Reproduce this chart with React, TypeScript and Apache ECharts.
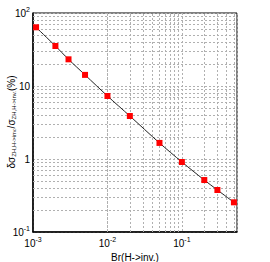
import React, { useEffect, useRef } from "react";
import * as echarts from "echarts";

const brValues = [0.0011, 0.002, 0.003, 0.005, 0.01, 0.02, 0.05, 0.1, 0.2, 0.3, 0.5];
const precision = [63.7, 35.3, 23.2, 14.2, 7.3, 3.88, 1.66, 0.91, 0.515, 0.376, 0.255];
const xMinorGrid = [
  0.002, 0.003, 0.004, 0.005, 0.006, 0.007, 0.008, 0.009,
  0.02, 0.03, 0.04, 0.05, 0.06, 0.07, 0.08, 0.09,
  0.2, 0.3, 0.4, 0.5,
];
const yMinorGrid = [
  0.2, 0.3, 0.4, 0.5, 0.6, 0.7, 0.8, 0.9,
  2, 3, 4, 5, 6, 7, 8, 9,
  20, 30, 40, 50, 60, 70, 80, 90,
];
const yTitle = "{d|δσ}{t|ZH,H->inv.}{d|/σ}{t|ZH,H->inv.}{d|(%)}";

const FONT = "Liberation Sans";

function powLabel(v: number): string {
  const e = Math.round(Math.log10(v));
  if (Math.abs(Math.log10(v) - e) > 1e-6) return "";
  if (e === 0) return "{b|1}";
  if (e === 1) return "{b|10}";
  return "{b|10}{s|" + e + "}";
}

const rich = {
  b: { fontSize: 10, fontFamily: FONT, color: "#000" },
  s: { fontSize: 7, fontFamily: FONT, color: "#000", padding: [0, 0, 7, 0] },
};

export default function App() {
  const ref = useRef<HTMLDivElement>(null);
  useEffect(() => {
    if (!ref.current) return;
    const chart = echarts.init(ref.current, undefined, { renderer: "svg" });
    const gridLine = { color: "#b0b0b0", width: 1, type: [2, 2] as any };
    chart.setOption({
      animation: false,
      backgroundColor: "#fff",
      grid: {
        left: 33,
        top: 13,
        right: 33,
        bottom: 30,
        outerBoundsMode: "none",
        containLabel: false,
        show: true,
        borderColor: "#000",
        borderWidth: 1,
        backgroundColor: "transparent",
      },
      graphic: [
        {
          type: "text",
          x: 11,
          y: 122,
          rotation: Math.PI / 2,
          style: {
            text: yTitle,
            align: "center",
            verticalAlign: "middle",
            fill: "#000",
            font: "10px " + FONT,
            rich: {
              d: { fontSize: 10, fontFamily: FONT, fill: "#000" },
              t: { fontSize: 6, fontFamily: FONT, fill: "#000", padding: [5, 0, 0, 0] },
            },
          },
        },
      ],
      xAxis: {
        type: "log",
        logBase: 10,
        min: 0.001,
        max: 0.55,
        name: "Br(H->inv.)",
        nameLocation: "middle",
        nameGap: 8,
        nameTextStyle: { fontSize: 10, fontFamily: FONT, color: "#000" },
        axisLine: { show: true, lineStyle: { color: "#000", width: 1.5 } },
        axisTick: { show: false },
        axisLabel: {
          formatter: powLabel,
          rich,
          margin: 4,
          showMaxLabel: true,
        },
        splitLine: { show: true, lineStyle: gridLine },
      },
      yAxis: {
        type: "log",
        logBase: 10,
        min: 0.1,
        max: 100,
        axisLine: { show: true, lineStyle: { color: "#000", width: 1.5 } },
        axisTick: { show: false },
        axisLabel: { formatter: powLabel, rich, margin: 3 },
        splitLine: { show: true, lineStyle: gridLine },
      },
      series: [
        {
          type: "line",
          data: brValues.map((x, i) => [x, precision[i]]),
          smooth: 0.3,
          symbol: "rect",
          symbolSize: 6,
          lineStyle: { color: "#222", width: 1 },
          itemStyle: { color: "#ff0000" },
          z: 5,
          markLine: {
            silent: true,
            symbol: ["none", "none"],
            label: { show: false },
            lineStyle: gridLine,
            data: [
              ...xMinorGrid.map((v) => ({ xAxis: v })),
              ...yMinorGrid.map((v) => ({ yAxis: v })),
            ],
          },
        },
      ],
    });
    return () => chart.dispose();
  }, []);
  return (
    <div
      ref={ref}
      style={{ position: "fixed", left: 0, top: 0, width: 270, height: 262 }}
    />
  );
}
